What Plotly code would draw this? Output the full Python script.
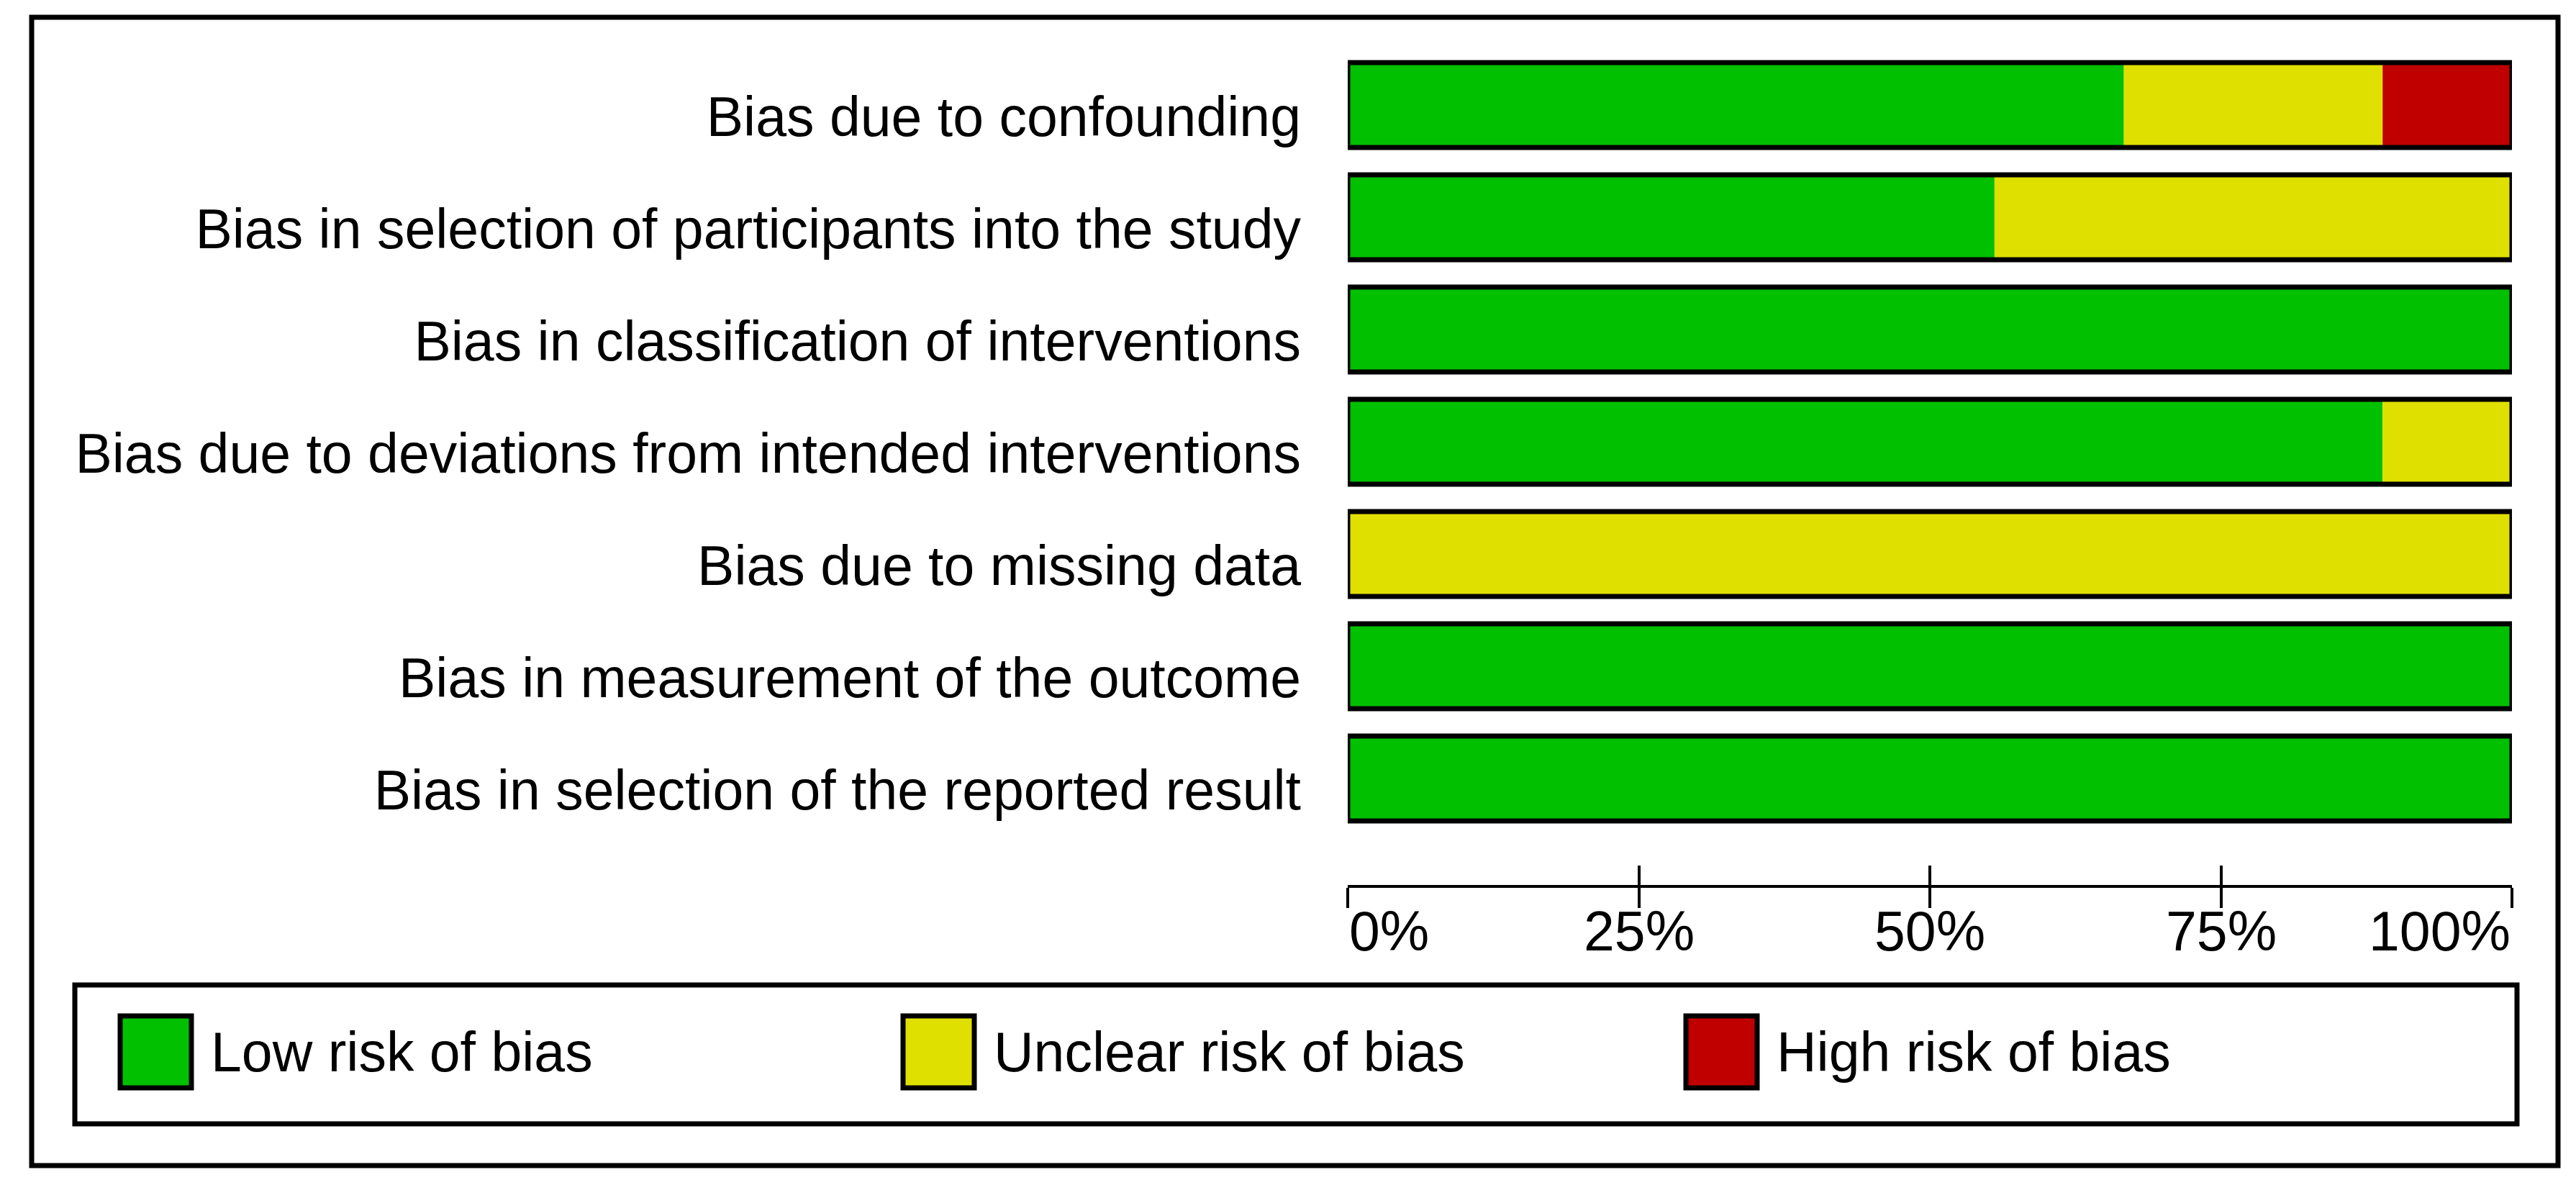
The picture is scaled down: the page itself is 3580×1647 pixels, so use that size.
import plotly.graph_objects as go

# ---------------- data ----------------
DOMAINS = [
    "Bias due to confounding",
    "Bias in selection of participants into the study",
    "Bias in classification of interventions",
    "Bias due to deviations from intended interventions",
    "Bias due to missing data",
    "Bias in measurement of the outcome",
    "Bias in selection of the reported result",
]
N_STUDIES = 9
LOW_N = [6, 5, 9, 8, 0, 9, 9]
UNCLEAR_N = [2, 4, 0, 1, 9, 0, 0]
HIGH_N = [1, 0, 0, 0, 0, 0, 0]

TICK_VALS = [0, 25, 50, 75, 100]
TICK_LABELS = ["0%", "25%", "50%", "75%", "100%"]

LEGEND_LABELS = ["Low risk of bias", "Unclear risk of bias", "High risk of bias"]
COLORS = ["#00C000", "#E0E000", "#C00000"]

FONT = "Liberation Sans, Arial, sans-serif"
FS = 77

# ---------------- derived percentages ----------------
low = [100.0 * v / N_STUDIES for v in LOW_N]
unc = [100.0 * v / N_STUDIES for v in UNCLEAR_N]
high = [100.0 * v / N_STUDIES for v in HIGH_N]
total = [a + b + c for a, b, c in zip(low, unc, high)]

# ---------------- geometry (pixels, page coords) ----------------
OFF = 8  # page body margin
W, H = 3580 - 2 * OFF, 1647 - 2 * OFF
PL, PT = 1873 - OFF, 68 - OFF
PR = 3491 - OFF
PB = 1230 - OFF
PW, PH = PR - PL, PB - PT
PITCH = 156.0
yspan = PH / PITCH


def px_x(px):
    return (px - OFF - PL) / PW


def px_y(py):
    return (PB - (py - OFF)) / PH


BAR_W = 118 / PITCH

fig = go.Figure()
segments = [
    (low, [0.0] * len(low)),
    (unc, low),
    (high, [a + b for a, b in zip(low, unc)]),
]
for (vals, base), col, name in zip(segments, COLORS, LEGEND_LABELS):
    fig.add_trace(go.Bar(
        y=DOMAINS, x=vals, base=base, orientation="h", name=name,
        width=BAR_W, marker=dict(color=col, line=dict(width=0)),
        showlegend=False, hoverinfo="skip",
    ))
# outline of each bar
fig.add_trace(go.Bar(
    y=DOMAINS, x=total, base=[0.0] * len(total), orientation="h",
    width=BAR_W,
    marker=dict(color="rgba(0,0,0,0)", line=dict(color="black", width=7)),
    showlegend=False, hoverinfo="skip",
))
# dummy trace for the upper tick half axis
fig.add_trace(go.Scatter(x=[], y=[], xaxis="x2", yaxis="y",
                         showlegend=False, hoverinfo="skip"))

shapes = []
# outer frame
shapes.append(dict(type="rect", xref="paper", yref="paper",
                   x0=px_x(44), x1=px_x(3555), y0=px_y(1620), y1=px_y(24),
                   line=dict(color="black", width=7), fillcolor="rgba(0,0,0,0)",
                   layer="below"))
# legend box
shapes.append(dict(type="rect", xref="paper", yref="paper",
                   x0=px_x(104), x1=px_x(3498), y0=px_y(1562), y1=px_y(1369),
                   line=dict(color="black", width=7), fillcolor="rgba(0,0,0,0)"))

annotations = []
LEG_X0 = 167
LEG_STEP = 1088
for i, (lab, col) in enumerate(zip(LEGEND_LABELS, COLORS)):
    x0 = LEG_X0 + i * LEG_STEP
    shapes.append(dict(type="rect", xref="paper", yref="paper",
                       x0=px_x(x0), x1=px_x(x0 + 99), y0=px_y(1512), y1=px_y(1412),
                       line=dict(color="black", width=7), fillcolor=col))
    annotations.append(dict(xref="paper", yref="paper", x=px_x(x0 + 124),
                            y=px_y(1462), text=lab, showarrow=False,
                            xanchor="left", yanchor="middle",
                            font=dict(family=FONT, size=FS, color="black")))

for v, t in zip(TICK_VALS, TICK_LABELS):
    if v == TICK_VALS[0]:
        anc = "left"
    elif v == TICK_VALS[-1]:
        anc = "right"
    else:
        anc = "center"
    annotations.append(dict(xref="x", yref="paper", x=v, y=px_y(1294),
                            text=t, showarrow=False, xanchor=anc, yanchor="middle",
                            font=dict(family=FONT, size=FS, color="black")))

fig.update_layout(
    width=W, height=H,
    margin=dict(l=PL, r=W - PR, t=PT, b=H - PB, pad=0),
    paper_bgcolor="white", plot_bgcolor="white",
    barmode="overlay",
    showlegend=False,
    font=dict(family=FONT, size=FS, color="black"),
    xaxis=dict(range=[0, 100], showgrid=False, zeroline=False,
               showline=True, linecolor="black", linewidth=4,
               ticks="outside", ticklen=28, tickwidth=4, tickcolor="black",
               tickvals=TICK_VALS, showticklabels=False, fixedrange=True),
    xaxis2=dict(range=[0, 100], overlaying="x", anchor="y", side="bottom",
                showgrid=False, zeroline=False, showline=False,
                ticks="inside", ticklen=27, tickwidth=4, tickcolor="black",
                tickvals=TICK_VALS, showticklabels=False, fixedrange=True),
    yaxis=dict(type="category", categoryorder="array", categoryarray=DOMAINS,
               range=[yspan - 0.5, -0.5], showgrid=False, zeroline=False,
               showline=False, ticks="", ticklabelstandoff=64,
               ticklabelshift=-16,
               tickfont=dict(family=FONT, size=FS, color="black"),
               fixedrange=True),
    shapes=shapes,
    annotations=annotations,
)

fig.write_html("out.html")
